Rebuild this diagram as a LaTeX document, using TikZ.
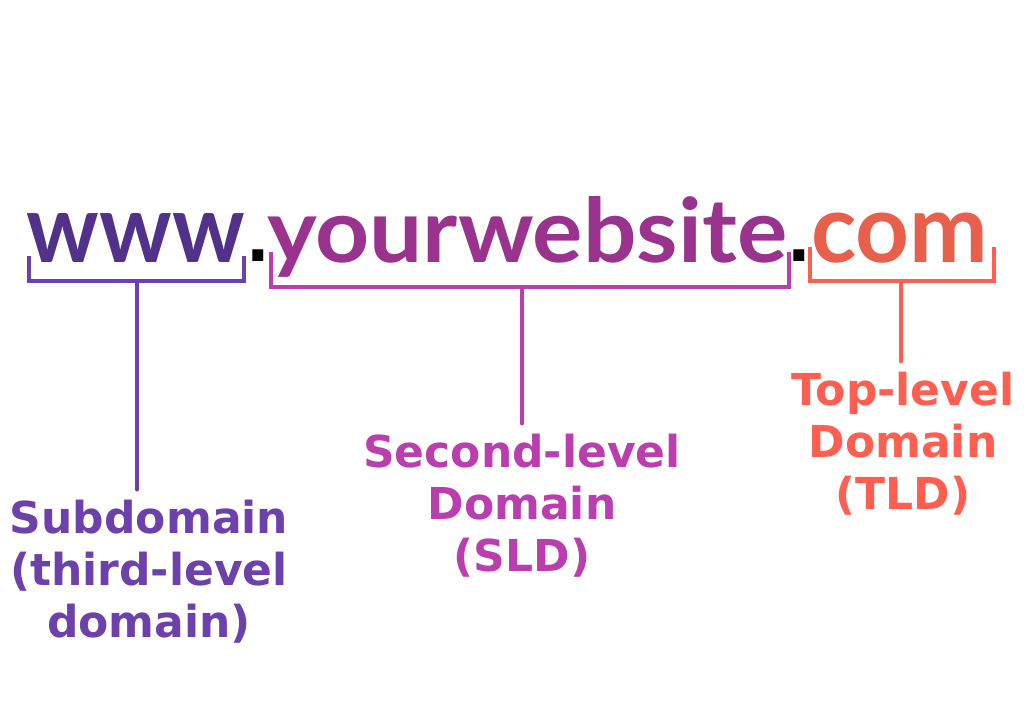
\documentclass[tikz,border=0pt]{standalone}
\usepackage{fontspec}
\setmainfont{DejaVu Sans}
\newfontfamily\urlfont{Lato}
\usepackage{graphicx}
\definecolor{cwww}{HTML}{52318A}
\definecolor{cyour}{HTML}{9A338D}
\definecolor{ccom}{HTML}{E8604C}
\definecolor{csub}{HTML}{6D41AB}
\definecolor{csld}{HTML}{BB3EAF}
\definecolor{ctld}{HTML}{FF5E50}
\tikzset{
  urlword/.style={anchor=base west, inner sep=0pt, outer sep=0pt},
  urldot/.style={anchor=base, inner sep=0pt, font=\fontsize{62}{62}\selectfont\bfseries, text=black},
  bracketline/.style={line width=4pt, line cap=rect, line join=miter},
  stemline/.style={line width=4pt, line cap=round, shorten >=10pt},
  label/.style={anchor=north, inner sep=0pt, align=center, font=\fontsize{44}{52}\selectfont\bfseries}
}
\begin{document}
\begin{tikzpicture}[x=1pt, y=-1pt]
\useasboundingbox (0,0) rectangle (1024,714);
% URL words
\node[urlword, text=cwww] (www) at (27,262) {\resizebox{218pt}{49pt}{\urlfont\bfseries www}};
\node[urldot] (dot1) at (258,261) {.};
\node[urlword, text=cyour] (your) at (267,262) {\resizebox{520pt}{66pt}{\urlfont\bfseries yourwebsite}};
\node[urldot] (dot2) at (799,261) {.};
\node[urlword, text=ccom] (com) at (811,262) {\resizebox{177pt}{49.5pt}{\urlfont\bfseries com}};
% brackets
\coordinate (b1) at (137,281);
\coordinate (b2) at (522,287);
\coordinate (b3) at (901,281);
\draw[bracketline, csub] (29,258) -- (29,281) -- (244,281) -- (244,258);
\draw[bracketline, csld] (270.5,254) -- (270.5,287) -- (788.5,287) -- (788.5,254);
\draw[bracketline, ctld] (810,249) -- (810,281) -- (994,281) -- (994,249);
% labels
\node[label, text=csub] (sub) at (149,499.5) {Subdomain\\(third-level\\domain)};
\node[label, text=csld] (sld) at (522,433.5) {Second-level\\Domain\\(SLD)};
\node[label, text=ctld] (tld) at (903,371.5) {Top-level\\Domain\\(TLD)};
% stems
\draw[stemline, csub] (b1) -- (b1 |- sub.north);
\draw[stemline, csld] (b2) -- (b2 |- sld.north);
\draw[stemline, ctld] (b3) -- (b3 |- tld.north);
\end{tikzpicture}
\end{document}
